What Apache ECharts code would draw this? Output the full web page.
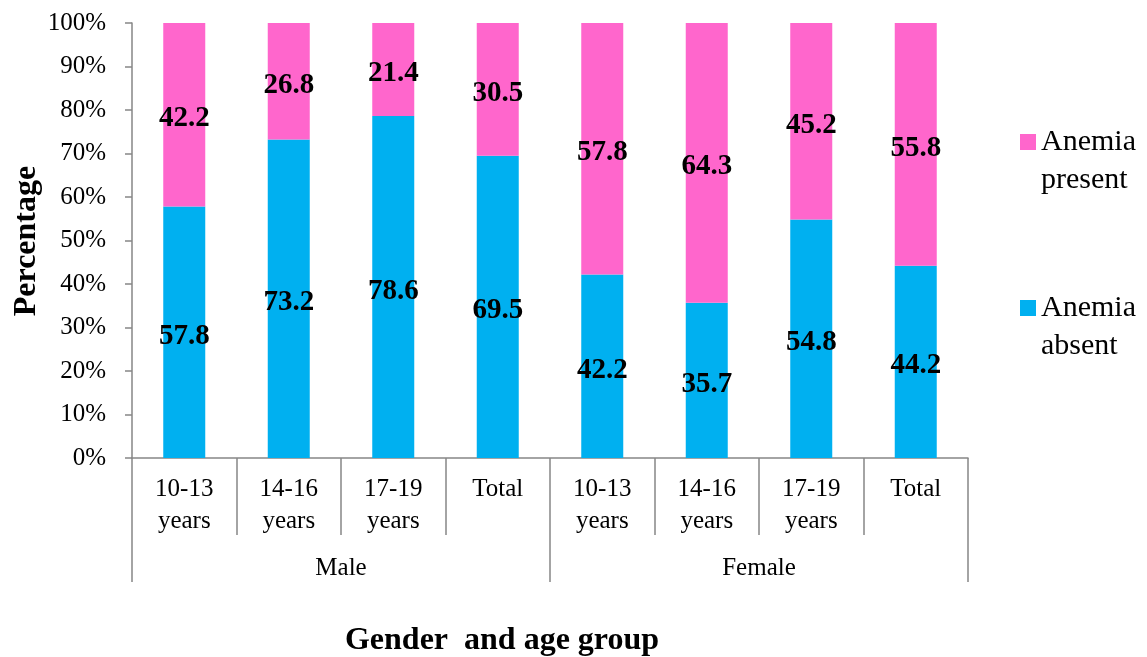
<!DOCTYPE html>
<html>
<head>
<meta charset="utf-8">
<script src="https://cdn.jsdelivr.net/npm/echarts@6/dist/echarts.min.js"></script>
<style>
html, body { margin: 0; padding: 0; background: #fff; }
#chart { width: 1147px; height: 657px; }
</style>
</head>
<body>
<div id="chart"></div>
<script>
// chart data
var ageGroups = ['10-13\nyears', '14-16\nyears', '17-19\nyears', 'Total',
                 '10-13\nyears', '14-16\nyears', '17-19\nyears', 'Total'];
var genders = ['Male', 'Female'];
var anemiaAbsent = [57.8, 73.2, 78.6, 69.5, 42.2, 35.7, 54.8, 44.2];
var anemiaPresent = [42.2, 26.8, 21.4, 30.5, 57.8, 64.3, 45.2, 55.8];
var seriesNames = ['Anemia\npresent', 'Anemia\nabsent'];

var serif = '"Liberation Serif", "Times New Roman", serif';
var axisGray = '#868686';

var chart = echarts.init(document.getElementById('chart'));

var dataLabel = {
	show: true,
	position: 'inside',
	offset: [0, 4],
	color: '#000',
	fontFamily: serif,
	fontWeight: 'bold',
	fontSize: 29
};

var option = {
	animation: false,
	backgroundColor: '#fff',
	grid: {
		left: 132,
		right: 179,
		top: 23,
		bottom: 199
	},
	legend: {
		orient: 'vertical',
		left: 1020,
		top: 85,
		padding: 0,
		itemWidth: 16,
		itemHeight: 16,
		itemGap: 52,
		icon: 'rect',
		data: [seriesNames[0], seriesNames[1]],
		// blank first line so the icon sits beside "Anemia"
		formatter: function (name) {
			return ' \n' + name;
		},
		textStyle: {
			fontFamily: serif,
			fontSize: 30,
			color: '#000',
			lineHeight: 38
		}
	},
	xAxis: [{
		type: 'category',
		position: 'bottom',
		data: ageGroups,
		axisLine: { show: true, lineStyle: { color: axisGray, width: 1.5 } },
		axisTick: { show: true, interval: 0, length: 77, lineStyle: { color: axisGray, width: 1.5 } },
		axisLabel: {
			interval: 0,
			margin: 15,
			color: '#000',
			fontFamily: serif,
			fontSize: 25,
			lineHeight: 32
		}
	}, {
		type: 'category',
		position: 'bottom',
		data: genders,
		axisLine: { show: false },
		axisTick: { show: true, interval: 0, length: 124, lineStyle: { color: axisGray, width: 1.5 } },
		axisLabel: {
			interval: 0,
			margin: 95,
			color: '#000',
			fontFamily: serif,
			fontSize: 25,
			lineHeight: 30
		}
	}],
	yAxis: {
		type: 'value',
		min: 0,
		max: 100,
		interval: 10,
		axisLine: { show: true, lineStyle: { color: axisGray, width: 1.5 } },
		axisTick: { show: true, length: 7, lineStyle: { color: axisGray, width: 1.5 } },
		splitLine: { show: false },
		axisLabel: {
			formatter: '{value}%',
			margin: 26,
			padding: [6, 0, 0, 0],
			color: '#000',
			fontFamily: serif,
			fontSize: 25
		}
	},
	series: [{
		name: seriesNames[1],
		type: 'bar',
		stack: 'total',
		barWidth: 42,
		data: anemiaAbsent,
		itemStyle: { color: '#00B0F0' },
		label: dataLabel
	}, {
		name: seriesNames[0],
		type: 'bar',
		stack: 'total',
		barWidth: 42,
		data: anemiaPresent,
		itemStyle: { color: '#FF66CC' },
		label: dataLabel
	}],
	graphic: [{
		type: 'text',
		x: 27,
		y: 241,
		rotation: Math.PI / 2,
		style: {
			text: 'Percentage',
			font: 'bold 32px ' + serif,
			fill: '#000',
			align: 'center',
			verticalAlign: 'middle'
		}
	}, {
		type: 'text',
		x: 502,
		y: 641,
		style: {
			text: 'Gender  and age group',
			font: 'bold 32px ' + serif,
			fill: '#000',
			align: 'center',
			verticalAlign: 'middle'
		}
	}]
};

chart.setOption(option);
</script>
</body>
</html>
